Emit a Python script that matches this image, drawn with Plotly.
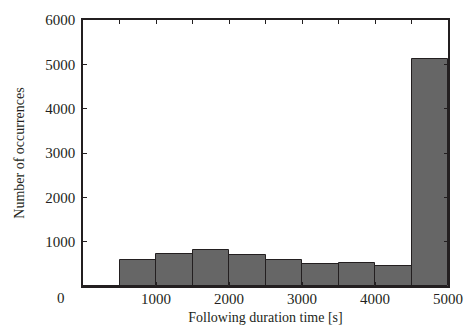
import plotly.graph_objects as go

bin_left = [0, 500, 1000, 1500, 2000, 2500, 3000, 3500, 4000, 4500]
bin_width = 500
counts = [0, 596, 723, 806, 700, 596, 506, 528, 460, 5113]
x_tick_vals = [500, 1000, 1500, 2000, 2500, 3000, 3500, 4000, 4500, 5000]
x_tick_text = ["", "1000", "", "2000", "", "3000", "", "4000", "", "5000"]
y_tick_vals = [0, 1000, 2000, 3000, 4000, 5000, 6000]
y_tick_text = ["", "1000", "2000", "3000", "4000", "5000", "6000"]

centers = [b + bin_width / 2 for b in bin_left]

font_family = "Liberation Serif, Times New Roman, serif"

fig = go.Figure(go.Bar(
    x=centers, y=counts, width=[bin_width] * len(centers),
    marker=dict(color="#666666", line=dict(color="#231f20", width=1)),
))

fig.update_layout(
    width=464, height=332,
    margin=dict(l=83, r=16, t=20, b=46),
    paper_bgcolor="white", plot_bgcolor="white",
    showlegend=False,
    font=dict(family=font_family, size=15, color="#231f20"),
    bargap=0,
    xaxis=dict(
        range=[0, 5000], tickvals=x_tick_vals, ticktext=x_tick_text,
        ticks="inside", ticklen=4, tickcolor="#231f20",
        showline=True, linecolor="#231f20", linewidth=1.5, mirror="ticks",
        showgrid=False, zeroline=False, automargin=False,
        ticklabelstandoff=-2,
        title=dict(text="Following duration time [s]", font=dict(size=14), standoff=6),
    ),
    yaxis=dict(
        range=[0, 6000], tickvals=y_tick_vals, ticktext=y_tick_text,
        ticks="inside", ticklen=4, tickcolor="#231f20",
        showline=True, linecolor="#231f20", linewidth=1.5, mirror="ticks",
        showgrid=False, zeroline=False, automargin=False,
        ticklabelstandoff=3,
        title=dict(text="Number of occurrences", font=dict(size=14), standoff=17),
    ),
    annotations=[dict(
        text="0", xref="paper", yref="paper", x=-0.060, y=-0.045,
        xanchor="center", yanchor="middle", showarrow=False,
        font=dict(family=font_family, size=15, color="#231f20"),
    )],
)

page_fix = (
    "document.body.style.margin='0';"
    "document.body.style.overflow='hidden';"
    "document.documentElement.style.overflow='hidden';"
)

fig.write_html("out.html", post_script=page_fix,
               config={"displayModeBar": False})
